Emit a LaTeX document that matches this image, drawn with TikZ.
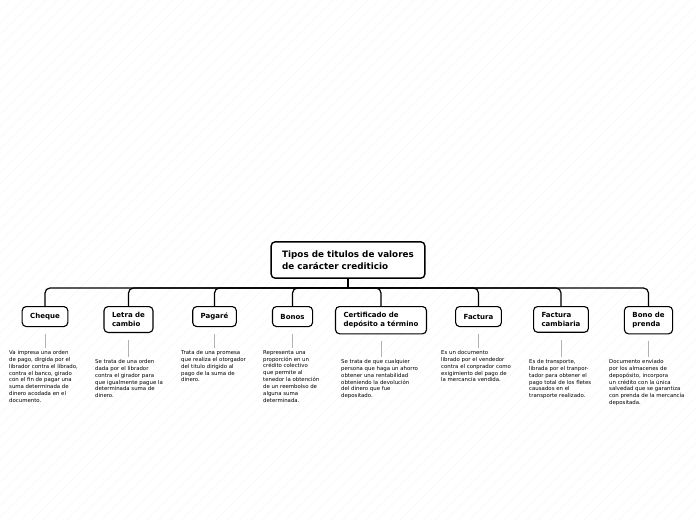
\documentclass[tikz,border=0pt]{standalone}
\usepackage{fontspec}
\setmainfont{DejaVu Sans}
\begin{document}
\begin{tikzpicture}[x=1pt,y=-1pt,
  rootbox/.style={draw=black,line width=1.4pt,rounded corners=4pt,fill=white,
    font=\bfseries\fontsize{8.8}{11.5}\selectfont,align=left,inner xsep=11pt,inner ysep=9pt},
  childbox/.style={draw=black,line width=1.1pt,rounded corners=4pt,fill=white,
    font=\bfseries\fontsize{7}{8.5}\selectfont,align=left,inner xsep=8pt,inner ysep=6pt,
    minimum height=20pt,anchor=north},
  notetext/.style={font=\fontsize{5.4}{6.9}\selectfont,align=left,inner sep=0pt,anchor=north west},
  conn/.style={draw=black,line width=1.2pt,rounded corners=5pt},
  noteline/.style={draw=gray!60,line width=1pt}]
\useasboundingbox (0,0) rectangle (696,520);
% faint diagonal background
\begin{scope}
\clip (0,0) rectangle (696,520);
\foreach \i in {0,11.5,...,1230}{
  \draw[gray!7,line width=0.6pt] (\i-520,520) -- (\i,0);
}
\end{scope}
% root
\node[rootbox] (root) at (348,260) {Tipos de titulos de valores\\de carácter crediticio};
\coordinate (hub) at (348,288);
% children
\node[childbox] (c1) at (45,306) {Cheque};
\node[childbox] (c2) at (128.5,306) {Letra de\\cambio};
\node[childbox] (c3) at (214.5,306) {Pagaré};
\node[childbox] (c4) at (292.5,306) {Bonos};
\node[childbox] (c5) at (381,306) {Certificado de\\depósito a término};
\node[childbox] (c6) at (478.5,306) {Factura};
\node[childbox] (c7) at (561,306) {Factura\\cambiaria};
\node[childbox] (c8) at (648.5,306) {Bono de\\prenda};
% connectors
\draw[conn] (root.south) -- (hub);
\foreach \c in {c1,c2,c3,c4,c5,c6,c7,c8}{
  \draw[conn] (hub) -| (\c.north);
}
% notes
\node[notetext] (n1) at (9,350) {Va impresa una orden\\de pago, dirgida por el\\librador contra el librado,\\contra el banco, girado\\con el fin de pagar una\\suma determinada de\\dinero acodada en el\\documento.};
\node[notetext] (n2) at (95,359) {Se trata de una orden\\dada por el librador\\contra el girador para\\que igualmente pague la\\determinada suma de\\dinero.};
\node[notetext] (n3) at (181,350) {Trata de una promesa\\que realiza el otorgador\\del titulo dirigido al\\pago de la suma de\\dinero.};
\node[notetext] (n4) at (263,350) {Representa una\\proporción en un\\crédito colectivo\\que permite al\\tenedor la obtención\\de un reembolso de\\alguna suma\\determinada.};
\node[notetext] (n5) at (341,359) {Se trata de que cualquier\\persona que haga un ahorro\\obtener una rentabilidad\\obteniendo la devolución\\del dinero que fue\\depositado.};
\node[notetext] (n6) at (441,350) {Es un documento\\librado por el vendedor\\contra el conprador como\\exigimiento del pago de\\la mercancia vendida.};
\node[notetext] (n7) at (529,359) {Es de transporte,\\librada por el tranpor-\\tador para obtener el\\pago total de los fletes\\causados en el\\transporte realizado.};
\node[notetext] (n8) at (609,359) {Documento enviado\\por los almacenes de\\depopósito, incorpora\\un crédito con la única\\salvedad que se garantiza\\con prenda de la mercancía\\depositada.};
% note lines
\foreach \c/\n in {c1/n1,c2/n2,c3/n3,c4/n4,c5/n5,c6/n6,c7/n7,c8/n8}{
  \draw[noteline] ([yshift=-7pt]\c.south) -- ([yshift=2pt]\c.south |- \n.north);
}
\end{tikzpicture}
\end{document}
